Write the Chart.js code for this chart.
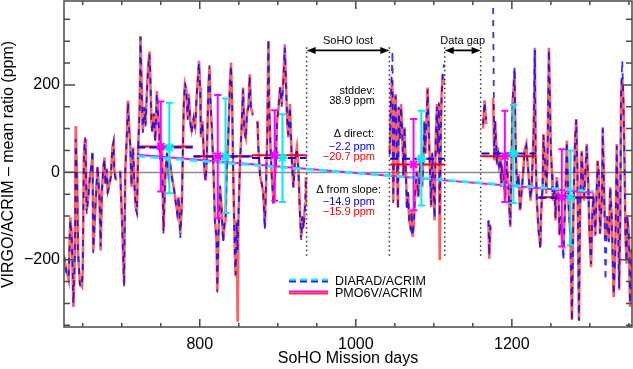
<!DOCTYPE html>
<html>
<head>
<meta charset="utf-8">
<script src="https://cdn.jsdelivr.net/npm/chart.js@4.4.0/dist/chart.umd.min.js"></script>
<style>
  html, body { margin: 0; padding: 0; background: #fff; }
  canvas { display: block; }
</style>
</head>
<body>
<canvas id="chart" width="633" height="369"></canvas>
<script>
// SoHO mission day of each sample (null values below mark data gaps)
const days = [
  626, 629, 632, 634, 636, 638, 640, 641, 643, 644, 646.5, 649, 650, 651.5, 653, 654, 655, 657, 659, 661.5,
  662.5, 663.5, 665.5, 667, 669, 671.5, 673, 674.5, 676.5, 678, 679, 681, 682, 684, 686, 688, 689.5, 690.5, 693, 695,
  698, 700, 703, 704.5, 706.5, 708, 709.5, 711, 712.5, 714.5, 716, 718, 719.5, 721, 723, 724, 725.5, 727, 729, 730.5,
  732.5, 734, 735.5, 736.5, 738, 739, 741, 743, 745, 747.5, 749.5, 751.5, 753.5, 756, 758, 760, 762, 764.5, 766.5, 768.5,
  771, 773, 775, 777, 779.5, 781, 783, 784.5, 786, 788, 789.5, 792, 794, 796, 799, 800.5, 801.5, 803.5, 804.5, 806,
  807.5, 809, 811, 812.5, 813.5, 815.5, 817.5, 819.5, 821.5, 822.5, 824, 826, 828, 830, 831.5, 833, 834.5, 836, 837.5, 839,
  840, 841.5, 843, 845, 846, 847.5, 848.5, 849.5, 851.5, 854, 855.5, 857, 859, 860.5, 862.5, 864, 865.5, 868, 870, 874,
  875, 877.5, 879.5, 881.5, 883.5, 885, 886.5, 888, 889, 890.5, 892, 894.5, 895.5, 897.5, 899, 901, 903, 905, 907, 909,
  910, 912, 913.5, 915.5, 918, 920, 922, 924.5, 926.5, 928.5, 930, 931.5, 933, 935, 936, 940,
  1043.5, 1045, 1046, 1047, 1048, 1049.5, 1051, 1052.5, 1054, 1055, 1056.5, 1058, 1059.5, 1061, 1062.5, 1064, 1065.5, 1067, 1068.5, 1070.5,
  1071.5, 1073, 1074.5, 1076, 1078, 1080, 1081.5, 1083, 1085, 1086.5, 1088, 1089, 1091, 1092, 1093.5, 1095, 1096.5, 1098, 1099.5, 1101,
  1102.5, 1104, 1105, 1106.5, 1107.5, 1109, 1110, 1111.5, 1113, 1117,
  1163, 1165, 1167, 1168.5, 1170, 1171, 1172.5, 1174, 1176, 1177.5, 1178.5, 1180, 1181, 1182, 1183.5, 1185, 1186.5, 1187.5, 1189.5, 1191.5,
  1193.5, 1195.5, 1198, 1199, 1201, 1202, 1203.5, 1204.5, 1206.5, 1208.5, 1210.5, 1213, 1215, 1216, 1218.5, 1220, 1222, 1224, 1225.5, 1228,
  1229.5, 1230.5, 1232, 1234, 1236.5, 1237.5, 1239.5, 1240.5, 1242.5, 1244, 1245.5, 1247.5, 1248.5, 1250, 1251.5, 1252.5, 1254.5, 1256, 1257.5, 1260,
  1261, 1263, 1264.5, 1266, 1268.5, 1270.5, 1272.5, 1275, 1277, 1279, 1281, 1282.5, 1284, 1286, 1287.5, 1289.5, 1291, 1292.5, 1294.5, 1296,
  1298, 1299.5, 1301.5, 1303, 1304.5, 1307, 1310, 1311.5, 1313, 1315.5, 1316.5, 1318.5, 1320, 1322, 1324.5, 1326, 1328, 1330.5, 1332.5, 1334.5,
  1336.5, 1337.5, 1339, 1340, 1341.5, 1343, 1344.5, 1345.5, 1347, 1348, 1350, 1351.5, 1353.5
];

// PMO6V/ACRIM - mean ratio (ppm)
const pmo6v = [
  -194, -224, -247, -103, -141, -308, -186, 106, -34, -186, -255, -262, -224, 42, 76, 27, -87, -57, -12, 19,
  45, -179, -110, -49, 11, -65, -179, -42, 11, 34, -27, 4, -49, -27, -12, 57, 68, 4, -19, null,
  4, -88, -255, 4, 80, 164, 103, 57, -34, 57, -19, -80, -88, 57, 148, 312, 194, 95, 148, 110,
  194, 247, 277, 224, 118, 95, 133, 72, 186, 103, 27, 65, -133, 4, 42, -4, 19, -12, -34, -57,
  -88, -57, -141, -72, 156, 201, 186, 125, 180, 110, 95, 118, 103, 171, 255, 194, 80, 118, 72, 4,
  -19, 27, 194, 240, 171, 95, 11, -110, -156, -270, -141, -34, -80, -156, -125, -110, 11, 57, 133, 224,
  251, 156, -11, -186, -239, -110, -342, -110, 19, 118, 194, 95, 80, 133, 156, 224, 148, 133, null, 118,
  57, -11, -27, -49, -125, -19, 80, 300, 156, 65, 4, -72, -27, 19, 118, 148, 194, 156, 209, 293,
  232, 118, 80, 156, 27, -34, 27, 57, 4, -95, -148, -103, -125, -72, -11, null,
  42, 150, 200, 190, -65, 118, 179, 42, -80, 148, 80, 156, 95, -11, 103, 11, -80, -49, -110, -133,
  -87, -148, -110, -49, 4, -57, -11, 27, -34, 27, 118, 42, 141, 194, 95, 11, -80, 42, -34, -110,
  80, 156, 42, 156, -201, 95, 179, 224, 200, null,
  100, 165, 110, null, -110, -198, -125, null, 170, 27, 118, 65, 19, 57, 11, 34, -34, 11, -4, -65,
  27, -34, -125, -34, 163, 186, 232, 88, -34, -4, -87, -34, 11, 49, 65, 27, -19, -65, -34, 103,
  285, 34, -65, -125, -171, -95, -34, 88, 27, -49, 11, 285, 194, 49, -4, -65, -34, -110, -11, -65,
  -141, -103, -156, -171, -65, 72, -65, -141, -338, -80, 72, 122, 11, -338, -80, 49, -4, -65, 11, 65,
  -34, -141, -217, -103, -49, -141, 27, -4, -141, -65, 103, -65, -150, -103, -156, -34, -103, -285, -186, 65,
  -141, -270, -103, 179, 217, 163, 11, -141, -209, -103, -141, -308, -178
];

// DIARAD/ACRIM - mean ratio (ppm)
const diarad = [
  -190, -230, -240, -110, -150, -300, -190, 76, -40, -180, -262, -255, -230, 35, 80, 30, -95, -60, -15, 25,
  50, -185, -105, -55, 15, -60, -170, -45, 15, 30, -30, 8, -45, -30, -10, 55, 70, 0, -25, null,
  0, -95, -262, 0, 85, 160, 100, 60, -30, 55, -15, -85, -95, 50, 150, 310, 200, 90, 150, 105,
  190, 240, 270, 230, 120, 90, 135, 70, 180, 105, 30, 60, -140, 0, 45, -5, 20, -15, -30, -60,
  -95, -55, -150, -75, 150, 205, 180, 120, 170, 115, 90, 125, 100, 175, 250, 190, 85, 115, 70, 5,
  -20, 30, 190, 245, 170, 100, 10, -115, -150, -275, -145, -30, -85, -160, -120, -115, 15, 55, 130, 225,
  245, 160, -15, -190, -235, -115, -180, -105, 15, 120, 190, 100, 75, 135, 150, 220, 150, 130, null, 115,
  60, -15, -25, -55, -130, -20, 75, 305, 150, 70, 0, -75, -30, 20, 115, 150, 195, 150, 205, 285,
  235, 120, 85, 150, 30, -35, 25, 55, 0, -100, -155, -100, -130, -75, -15, null,
  40, 170, 217, 277, -70, 120, 175, 45, -85, 150, 75, 150, 100, -10, 105, 10, -85, -45, -115, -130,
  -90, -145, -115, -45, 0, -55, -15, 30, -30, 25, 115, 45, 140, 190, 100, 10, -75, 45, -35, -105,
  85, 150, 45, 160, -100, 100, 175, 230, 247, null,
  110, 160, 120, null, -110, -190, -120, null, 376, 30, 120, 60, 20, 55, 15, 30, -30, 10, -5, -60,
  25, -35, -120, -30, 160, 190, 240, 85, -35, -5, -90, -35, 10, 45, 60, 25, -20, -60, -30, 100,
  280, 35, -60, -130, -175, -90, -30, 85, 25, -45, 10, 280, 195, 45, -5, -60, -35, -105, -15, -60,
  -145, -100, -160, -201, -60, 70, -70, -145, -340, -85, 70, 120, 10, -340, -75, 45, -5, -60, 15, 60,
  -30, -140, -210, -100, -55, -145, 25, -5, -140, -60, 100, -70, -247, -100, -160, -35, -100, -280, -190, 60,
  -145, -265, -100, 185, 255, 160, 10, -140, -205, -100, -145, -300, -175
];

// period means (horizontal bars) and their error bars
const periodStart = [720, 792, 867, 1044, 1161, 1234];
const periodEnd = [791, 868, 937, 1114, 1231, 1305];
const pmoMean = [59, 37, 39, 18, 37, -57];
const diaMean = [57, 36, 33, 31, 43, -58];
const pmoErrDay = [750, 823, 896, 1074, 1191, 1264];
const pmoErrLo = [-44, -105, -65, -87, -68, -170];
const pmoErrHi = [162, 177, 142, 122, 141, 53];
const diaErrDay = [761, 833, 906, 1084, 1202, 1275];
const diaErrLo = [-48, -93, -68, -76, -70, -167];
const diaErrHi = [159, 169, 133, 141, 154, 50];

// linear trends
const trendDays = [720, 1305];
const pmoTrend = [40, -47];
const diaTrend = [37, -44];

// dotted markers for the SoHO loss and the data gap
const markerDays = [937, 1043, 1114, 1160];
const markerRange = [-191, 287];
const arrowLevel = 279;

const xTicks = [650, 700, 750, 800, 850, 900, 950, 1000, 1050, 1100, 1150, 1200, 1250, 1300, 1350];
const xLabels = [800, 1000, 1200];
const yTicks = [-350, -300, -250, -200, -150, -100, -50, 0, 50, 100, 150, 200, 250, 300, 350];
const yLabels = [-200, 0, 200];

const FONT = "'Liberation Sans', Arial, Helvetica, sans-serif";
Chart.defaults.font.family = FONT;
Chart.defaults.color = '#000';

const series = vals => days.map((d, i) => ({ x: d, y: vals[i] }));
const bars = means => {
  const out = [];
  periodStart.forEach((s, i) => {
    out.push({ x: s, y: means[i] }, { x: periodEnd[i], y: means[i] }, { x: periodEnd[i], y: null });
  });
  return out;
};
const markers = [];
markerDays.forEach(d => {
  markers.push({ x: d, y: markerRange[0] }, { x: d, y: markerRange[1] }, { x: d, y: null });
});

const minus = v => (v < 0 ? '\u2212' + Math.abs(v) : String(v));

const zeroLine = {
  id: 'zeroLine',
  beforeDatasetsDraw(chart) {
    const { ctx, chartArea: a, scales: { y } } = chart;
    const py = Math.round(y.getPixelForValue(0)) + 0.5;
    ctx.save();
    ctx.strokeStyle = '#8a8a8a';
    ctx.lineWidth = 1.5;
    ctx.beginPath();
    ctx.moveTo(a.left, py);
    ctx.lineTo(a.right, py);
    ctx.stroke();
    ctx.restore();
  }
};

const errorBars = {
  id: 'errorBars',
  afterDatasetsDraw(chart) {
    const { ctx, scales: { x, y } } = chart;
    ctx.save();
    ctx.lineWidth = 2;
    [[pmoErrDay, pmoErrLo, pmoErrHi, '#ff00ff'], [diaErrDay, diaErrLo, diaErrHi, '#00f0f0']].forEach(([d, lo, hi, col]) => {
      ctx.strokeStyle = col;
      d.forEach((day, i) => {
        const px = x.getPixelForValue(day);
        const p1 = y.getPixelForValue(lo[i]);
        const p2 = y.getPixelForValue(hi[i]);
        ctx.beginPath();
        ctx.moveTo(px, p1); ctx.lineTo(px, p2);
        ctx.moveTo(px - 3.5, p1); ctx.lineTo(px + 3.5, p1);
        ctx.moveTo(px - 3.5, p2); ctx.lineTo(px + 3.5, p2);
        ctx.stroke();
      });
    });
    ctx.restore();
  }
};

function arrow(ctx, x1, x2, y) {
  ctx.beginPath();
  ctx.moveTo(x1 + 6, y); ctx.lineTo(x2 - 6, y);
  ctx.stroke();
  ctx.beginPath();
  ctx.moveTo(x1, y); ctx.lineTo(x1 + 9, y - 3.5); ctx.lineTo(x1 + 9, y + 3.5); ctx.closePath();
  ctx.moveTo(x2, y); ctx.lineTo(x2 - 9, y - 3.5); ctx.lineTo(x2 - 9, y + 3.5); ctx.closePath();
  ctx.fill();
}

const decorations = {
  id: 'decorations',
  afterDraw(chart) {
    const { ctx, chartArea: a, scales: { x, y } } = chart;
    ctx.save();

    // frame with inward ticks
    ctx.strokeStyle = '#4a4a4a';
    ctx.lineWidth = 1.5;
    ctx.strokeRect(a.left, a.top, a.right - a.left, a.bottom - a.top);
    ctx.beginPath();
    xTicks.forEach(v => {
      const px = x.getPixelForValue(v);
      const len = v % 200 === 0 ? 8 : 4;
      ctx.moveTo(px, a.bottom); ctx.lineTo(px, a.bottom - len);
      ctx.moveTo(px, a.top); ctx.lineTo(px, a.top + len);
    });
    yTicks.forEach(v => {
      const py = y.getPixelForValue(v);
      const len = v % 200 === 0 ? 11 : 6;
      ctx.moveTo(a.left, py); ctx.lineTo(a.left + len, py);
      ctx.moveTo(a.right, py); ctx.lineTo(a.right - len, py);
    });
    ctx.stroke();

    // arrows for the SoHO loss and the data gap
    const ay = y.getPixelForValue(arrowLevel);
    const m = markerDays.map(d => x.getPixelForValue(d));
    ctx.strokeStyle = '#000';
    ctx.fillStyle = '#000';
    ctx.lineWidth = 1.8;
    arrow(ctx, m[0], m[1], ay);
    arrow(ctx, m[2], m[3], ay);
    ctx.font = '11px ' + FONT;
    ctx.textAlign = 'center';
    ctx.textBaseline = 'alphabetic';
    ctx.fillText('SoHO lost', (m[0] + m[1]) / 2, ay - 6);
    ctx.fillText('Data gap', (m[2] + m[3]) / 2, ay - 6);

    // statistics text
    ctx.textAlign = 'right';
    const notes = [
      ['stddev:', '#000', 94, 375],
      ['38.9 ppm', '#000', 104, 375],
      ['\u0394 direct:', '#000', 137, 374],
      ['\u22122.2 ppm', '#0000ff', 149.5, 375],
      ['\u221220.7 ppm', '#ff0000', 159.5, 375],
      ['\u0394 from slope:', '#000', 192.5, 381],
      ['\u221214.9 ppm', '#0000ff', 204.5, 375],
      ['\u221215.9 ppm', '#ff0000', 214.5, 375]
    ];
    notes.forEach(([t, c, ty, tx]) => {
      ctx.fillStyle = c;
      ctx.fillText(t, tx, ty);
    });

    // legend
    ctx.lineWidth = 2;
    ctx.setLineDash([7, 4]);
    ctx.strokeStyle = '#00ffff';
    ctx.beginPath(); ctx.moveTo(289, 279.5); ctx.lineTo(328, 279.5); ctx.stroke();
    ctx.strokeStyle = '#2020ff';
    ctx.beginPath(); ctx.moveTo(289, 281.5); ctx.lineTo(328, 281.5); ctx.stroke();
    ctx.setLineDash([]);
    ctx.strokeStyle = '#ff00ff';
    ctx.beginPath(); ctx.moveTo(289, 291.5); ctx.lineTo(328, 291.5); ctx.stroke();
    ctx.strokeStyle = '#ff3030';
    ctx.beginPath(); ctx.moveTo(289, 293.5); ctx.lineTo(328, 293.5); ctx.stroke();
    ctx.fillStyle = '#000';
    ctx.textAlign = 'left';
    ctx.font = '12.5px ' + FONT;
    ctx.fillText('DIARAD/ACRIM', 335, 285);
    ctx.fillText('PMO6V/ACRIM', 335, 297);

    // axis titles
    ctx.font = '16px ' + FONT;
    ctx.textAlign = 'center';
    ctx.fillText('SoHO Mission days', (a.left + a.right) / 2, 363);
    ctx.translate(9, (a.top + a.bottom) / 2 + 0.5);
    ctx.rotate(-Math.PI / 2);
    ctx.textBaseline = 'middle';
    ctx.fillText('VIRGO/ACRIM \u2013 mean ratio (ppm)', 0, 0);
    ctx.restore();
  }
};

new Chart(document.getElementById('chart'), {
  type: 'line',
  data: {
    datasets: [
      {
        data: pmoErrDay.map((d, i) => ({ x: d, y: pmoMean[i] })),
        showLine: false, pointStyle: 'star', pointRadius: 5,
        pointBorderWidth: 2, pointBorderColor: '#ff00ff', borderColor: '#ff00ff'
      },
      {
        data: diaErrDay.map((d, i) => ({ x: d, y: diaMean[i] })),
        showLine: false, pointStyle: 'star', pointRadius: 5,
        pointBorderWidth: 2, pointBorderColor: '#00f0f0', borderColor: '#00f0f0'
      },
      { data: bars(diaMean), borderColor: '#0000ff', borderWidth: 2, borderDash: [8, 4], pointRadius: 0 },
      { data: bars(pmoMean), borderColor: '#ff0000', borderWidth: 2, pointRadius: 0 },
      {
        data: trendDays.map((d, i) => ({ x: d, y: diaTrend[i] })),
        borderColor: '#00ffff', borderWidth: 2.5, borderDash: [8, 5], pointRadius: 0
      },
      {
        data: trendDays.map((d, i) => ({ x: d, y: pmoTrend[i] })),
        borderColor: '#ff00ff', borderWidth: 2, pointRadius: 0
      },
      { data: markers, borderColor: '#333', borderWidth: 1.5, borderDash: [1.5, 3], pointRadius: 0 },
      { label: 'DIARAD/ACRIM', data: series(diarad), borderColor: 'rgba(0,0,255,0.8)', borderWidth: 1.8, borderDash: [6, 6], pointRadius: 0 },
      { label: 'PMO6V/ACRIM', data: series(pmo6v), borderColor: 'rgba(255,0,0,0.62)', borderWidth: 2.6, pointRadius: 0 }
    ]
  },
  options: {
    responsive: false,
    animation: false,
    devicePixelRatio: 1,
    events: [],
    spanGaps: false,
    layout: { autoPadding: false, padding: { top: 1, right: 1, left: 0, bottom: 0 } },
    plugins: { legend: { display: false }, tooltip: { enabled: false } },
    scales: {
      x: {
        type: 'linear', min: 626, max: 1354,
        grid: { display: false, drawTicks: false },
        border: { display: false },
        afterBuildTicks: s => { s.ticks = xTicks.map(v => ({ value: v })); },
        afterFit: s => { s.height = 42; s.paddingLeft = 0; s.paddingRight = 0; },
        ticks: {
          autoSkip: false, maxRotation: 0, padding: 8,
          font: { size: 16 },
          callback: v => (xLabels.includes(v) ? String(v) : '')
        }
      },
      y: {
        type: 'linear', min: -354, max: 392,
        grid: { display: false, drawTicks: false },
        border: { display: false },
        afterBuildTicks: s => { s.ticks = yTicks.map(v => ({ value: v })); },
        afterFit: s => { s.width = 64; s.paddingTop = 0; s.paddingBottom = 0; },
        ticks: {
          autoSkip: false, padding: 4,
          font: { size: 16 },
          callback: v => (yLabels.includes(v) ? minus(v) : '')
        }
      }
    }
  },
  plugins: [zeroLine, errorBars, decorations]
});
</script>
</body>
</html>
